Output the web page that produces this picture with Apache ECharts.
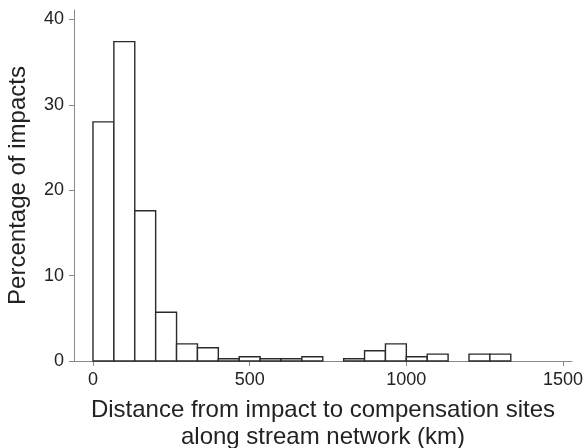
<!DOCTYPE html>
<html>
<head>
<meta charset="utf-8">
<script src="https://cdn.jsdelivr.net/npm/echarts@6/dist/echarts.min.js"></script>
<style>
  html, body { margin: 0; padding: 0; background: #fff; }
  #chart { width: 584px; height: 448px; }
</style>
</head>
<body>
<div id="chart"></div>
<script>
// histogram bins: width 1000/15 km, starting at 0
const binWidth = 1000 / 15
const percentages = [28.0, 37.4, 17.6, 5.7, 2.0, 1.55, 0.27, 0.5, 0.27, 0.27,
    0.5, 0, 0.27, 1.2, 2.0, 0.5, 0.8, 0, 0.8, 0.8]
const xTicks = [0, 500, 1000, 1500]
const yTicks = [0, 10, 20, 30, 40]

const bins = percentages.map((p, i) => [i * binWidth, (i + 1) * binWidth, p])

let chart = echarts.init(document.getElementById('chart'), null, { renderer: 'canvas' })

const axisColor = '#8a8a8a'
const textColor = '#222'
const font = 'Liberation Sans, Arial, Helvetica, sans-serif'

let option = {
    animation: false,
    grid: { left: 74, right: 12, top: 10, bottom: 87, containLabel: false, outerBoundsMode: 'none' },
    xAxis: {
        type: 'value',
        min: -60.6,
        max: 1528.7,
        axisLine: { show: true, onZero: false, lineStyle: { color: axisColor, width: 1 } },
        axisTick: { show: true, length: 5, customValues: xTicks, lineStyle: { color: axisColor } },
        axisLabel: {
            customValues: xTicks, margin: 10, fontSize: 18, color: textColor, fontFamily: font,
            formatter: v => String(v)
        },
        splitLine: { show: false },
        name: 'Distance from impact to compensation sites\nalong stream network (km)',
        nameLocation: 'middle',
        nameGap: 36,
        nameTextStyle: { fontSize: 24, lineHeight: 27, color: textColor, fontFamily: font }
    },
    yAxis: {
        type: 'value',
        min: 0,
        max: 41.1,
        axisLine: { show: true, onZero: false, lineStyle: { color: axisColor, width: 1 } },
        axisTick: { show: true, length: 5, customValues: yTicks, lineStyle: { color: axisColor } },
        axisLabel: { customValues: yTicks, margin: 10, fontSize: 18, color: textColor, fontFamily: font },
        splitLine: { show: false },
        name: 'Percentage of impacts',
        nameLocation: 'middle',
        nameGap: 44,
        nameTextStyle: { fontSize: 24, color: textColor, fontFamily: font }
    },
    series: [{
        type: 'custom',
        data: bins,
        renderItem: function (params, api) {
            const y = api.value(2)
            if (!y) return null
            const p0 = api.coord([api.value(0), y])
            const p1 = api.coord([api.value(1), 0])
            return {
                type: 'rect',
                shape: { x: p0[0], y: p0[1], width: p1[0] - p0[0], height: p1[1] - p0[1] },
                style: { fill: '#fff', stroke: '#2a2a2a', lineWidth: 1.4 }
            }
        }
    }]
}

chart.setOption(option)
</script>
</body>
</html>
